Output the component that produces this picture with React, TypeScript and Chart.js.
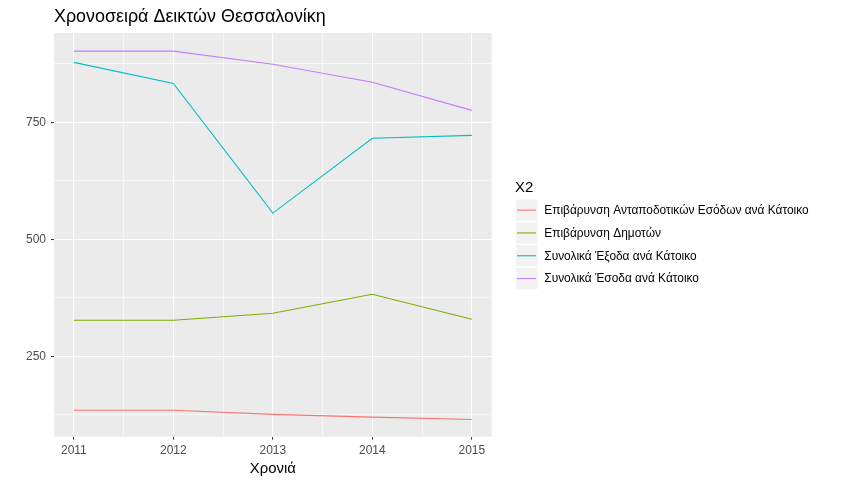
import React, { useEffect, useRef } from "react";
import { Chart, registerables } from "chart.js";

Chart.register(...registerables);

const chartTitle = "Χρονοσειρά Δεικτών Θεσσαλονίκη";
const xTitle = "Χρονιά";
const legendTitle = "X2";
const years = [2011, 2012, 2013, 2014, 2015];
const seriesNames = [
  "Επιβάρυνση Ανταποδοτικών Εσόδων ανά Κάτοικο",
  "Επιβάρυνση Δημοτών",
  "Συνολικά Έξοδα ανά Κάτοικο",
  "Συνολικά Έσοδα ανά Κάτοικο",
];
const antapodotika = [134.6, 134.6, 126, 120, 115];
const dimoton = [327, 327, 342, 382.5, 329];
const exoda = [878, 833, 556, 716, 722];
const esoda = [902, 902, 874, 835.5, 775.5];
const seriesColors = ["#F8766D", "#7CAE00", "#00BFC4", "#C77CFF"];
const yMajorTicks = [250, 500, 750];
const yMinorTicks = [125, 375, 625, 875];
const xMinorTicks = [2011.5, 2012.5, 2013.5, 2014.5];

const FONT = '"Liberation Sans", Arial, sans-serif';

export default function App() {
  const ref = useRef<HTMLCanvasElement | null>(null);

  useEffect(() => {
    if (!ref.current) return;
    const allSeries = [antapodotika, dimoton, exoda, esoda];
    const overlay = {
      id: "ggOverlay",
      beforeDraw(chart: any) {
        const { ctx, chartArea } = chart;
        ctx.save();
        ctx.fillStyle = "#FFFFFF";
        ctx.fillRect(0, 0, chart.width, chart.height);
        ctx.fillStyle = "#EBEBEB";
        ctx.fillRect(
          chartArea.left,
          chartArea.top,
          chartArea.right - chartArea.left,
          chartArea.bottom - chartArea.top
        );
        ctx.restore();
      },
      afterDraw(chart: any) {
        const { ctx, chartArea } = chart;
        ctx.save();
        ctx.textBaseline = "middle";
        ctx.fillStyle = "#000000";
        ctx.textAlign = "left";
        ctx.font = `17.9px ${FONT}`;
        ctx.fillText(chartTitle, chartArea.left, 17);
        ctx.font = `14.9px ${FONT}`;
        ctx.textAlign = "center";
        ctx.fillText(xTitle, (chartArea.left + chartArea.right) / 2, 469);
        // legend
        ctx.textAlign = "left";
        ctx.fillText(legendTitle, 515, 188);
        const top0 = 199.5;
        const step = 22.8;
        const h = 21.3;
        const w = 21.5;
        ctx.font = `11.9px ${FONT}`;
        seriesNames.forEach((name, i) => {
          const y = top0 + i * step;
          ctx.fillStyle = "#F2F2F2";
          ctx.fillRect(516, y, w, h);
          ctx.strokeStyle = seriesColors[i];
          ctx.lineWidth = 1.1;
          ctx.beginPath();
          ctx.moveTo(517, y + h / 2);
          ctx.lineTo(536, y + h / 2);
          ctx.stroke();
          ctx.fillStyle = "#000000";
          ctx.fillText(name, 544.3, y + h / 2 + 0.5);
        });
        ctx.restore();
      },
    };

    const isMajorY = (v: number) => yMajorTicks.includes(v);
    const isMajorX = (v: number) => years.includes(v);

    const chart = new Chart(ref.current, {
      type: "line",
      data: {
        datasets: seriesNames.map((name, i) => ({
          label: name,
          data: years.map((yr, j) => ({ x: yr, y: allSeries[i][j] })),
          borderColor: seriesColors[i],
          backgroundColor: seriesColors[i],
          borderWidth: 1.1,
          pointRadius: 0,
          tension: 0,
          fill: false,
        })),
      },
      options: {
        animation: false,
        responsive: false,
        maintainAspectRatio: false,
        layout: { padding: { top: 33, right: 356.3, left: 0, bottom: 0 } },
        plugins: {
          legend: { display: false },
          title: { display: false },
          tooltip: { enabled: false },
        },
        scales: {
          x: {
            type: "linear",
            min: 2010.8,
            max: 2015.2,
            afterBuildTicks: (s: any) => {
              s.ticks = [...years, ...xMinorTicks]
                .sort((a, b) => a - b)
                .map((v) => ({ value: v }));
            },
            afterFit: (s: any) => {
              s.height = 47.3;
            },
            border: { display: false },
            grid: {
              color: "#FFFFFF",
              lineWidth: (c: any) => (isMajorX(c.tick?.value) ? 1.1 : 0.6),
              drawTicks: true,
              tickLength: 3,
              tickWidth: 1,
              tickColor: (c: any) =>
                isMajorX(c.tick?.value) ? "#333333" : "rgba(0,0,0,0)",
            },
            ticks: {
              autoSkip: false,
              maxRotation: 0,
              padding: 4,
              color: "#4D4D4D",
              font: { family: FONT, size: 12 },
              callback: (v: any) => (isMajorX(Number(v)) ? String(v) : ""),
            },
          },
          y: {
            type: "linear",
            min: 78.2,
            max: 940.8,
            afterBuildTicks: (s: any) => {
              s.ticks = [...yMajorTicks, ...yMinorTicks]
                .sort((a, b) => a - b)
                .map((v) => ({ value: v }));
            },
            afterFit: (s: any) => {
              s.width = 54;
            },
            border: { display: false },
            grid: {
              color: "#FFFFFF",
              lineWidth: (c: any) => (isMajorY(c.tick?.value) ? 1.1 : 0.6),
              drawTicks: true,
              tickLength: 3,
              tickWidth: 1,
              tickColor: (c: any) =>
                isMajorY(c.tick?.value) ? "#333333" : "rgba(0,0,0,0)",
            },
            ticks: {
              autoSkip: false,
              padding: 5,
              color: "#4D4D4D",
              font: { family: FONT, size: 12 },
              callback: (v: any) => (isMajorY(Number(v)) ? String(v) : ""),
            },
          },
        },
      },
      plugins: [overlay],
    } as any);
    return () => chart.destroy();
  }, []);

  return (
    <div style={{ position: "fixed", left: 0, top: 0, width: 848, height: 484 }}>
      <canvas ref={ref} width={848} height={484} style={{ width: 848, height: 484 }} />
    </div>
  );
}
